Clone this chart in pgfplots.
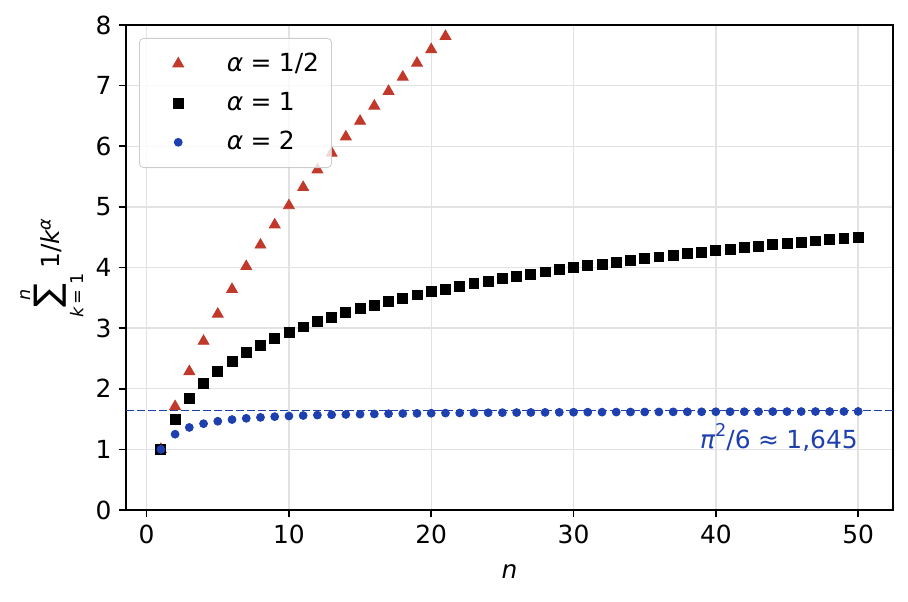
\documentclass[border=0pt]{standalone}
\usepackage{fontspec}
\setmainfont{DejaVu Sans}
\usepackage{pgfplots}
\pgfplotsset{compat=1.18}

\definecolor{cred}{RGB}{192,57,43}
\definecolor{cblue}{RGB}{30,64,175}
\definecolor{cgrid}{RGB}{226,226,226}

\newcommand{\sm}[1]{\hbox{\fontsize{8.5}{9}\selectfont #1}}
\newcommand{\eq}{\hspace{0.3em}=\hspace{0.3em}}

\begin{document}
\begin{tikzpicture}
\begin{axis}[
    scale only axis,
    width=368.16bp,
    height=232.8bp,
    xmin=-1.45, xmax=52.45,
    ymin=0, ymax=8,
    xtick={0,10,20,30,40,50},
    ytick={0,1,2,3,4,5,6,7,8},
    tick align=outside,
    tick pos=left,
    major tick length=3.5pt,
    tick style={black, line width=0.8pt},
    axis line style={line width=0.8pt},
    grid=major,
    grid style={cgrid, line width=0.7pt},
    clip marker paths=true,
    /pgf/number format/assume math mode=true,
    ticklabel style={font=\fontsize{12}{14}\selectfont},
    label style={font=\fontsize{12}{14}\selectfont},
    xlabel={\itshape n},
    xlabel style={yshift=-3.5bp},
    ylabel={$\displaystyle\mathop{\hbox{\fontsize{17}{18}\selectfont ∑}}\limits_{\sm{\itshape k\,\upshape = 1}}^{\sm{\itshape n}}$\,1/{\itshape k}$^{\sm{\itshape α}}$},
    ylabel style={yshift=-2pt},
    legend cell align=left,
    legend style={
        at={(0,1)}, anchor=north west,
        xshift=6.24bp, yshift=-6.24bp,
        draw={rgb,255:red,204;green,204;blue,204},
        rounded corners=2pt,
        fill=white, fill opacity=0.8, text opacity=1, draw opacity=1,
        font=\fontsize{12}{14}\selectfont,
        inner xsep=4pt, inner ysep=5pt,
        row sep=4.6pt,
    },
    legend image code/.code={
        \path (0cm,0cm);
        \draw[#1, fill opacity=1, draw opacity=1] plot coordinates {(0.51cm,0cm)};},
    every axis legend/.append style={nodes={right, inner xsep=2pt}},
]

\addplot[cblue, line width=0.6pt, dash pattern=on 3.7pt off 1.6pt, forget plot]
    coordinates {(-1.45,1.645)(52.45,1.645)};

\addplot[only marks, mark=triangle*, mark size=3pt, color=cred, draw=none, mark options={fill=cred, draw=none}]
coordinates {
(1,1)(2,1.70711)(3,2.28446)(4,2.78446)(5,3.23167)(6,3.63992)(7,4.01788)(8,4.37144)
(9,4.70477)(10,5.02099)(11,5.32250)(12,5.61118)(13,5.88853)(14,6.15579)(15,6.41399)
(16,6.66399)(17,6.90653)(18,7.14223)(19,7.37165)(20,7.59526)(21,7.81348)(22,8.02668)
};
\addlegendentry{\hspace{0.66cm}{\itshape α}\eq 1/2}

\addplot[only marks, mark=square*, mark size=2.4pt, color=black, mark options={fill=black, draw=none}]
coordinates {
(1,1)(2,1.5)(3,1.83333)(4,2.08333)(5,2.28333)(6,2.45)(7,2.59286)(8,2.71786)(9,2.82897)(10,2.92897)
(11,3.01988)(12,3.10321)(13,3.18013)(14,3.25156)(15,3.31823)(16,3.38073)(17,3.43955)(18,3.49511)(19,3.54774)(20,3.59774)
(21,3.64536)(22,3.69081)(23,3.73429)(24,3.77596)(25,3.81596)(26,3.85442)(27,3.89146)(28,3.92717)(29,3.96165)(30,3.99499)
(31,4.02725)(32,4.05850)(33,4.08880)(34,4.11821)(35,4.14678)(36,4.17456)(37,4.20159)(38,4.22790)(39,4.25354)(40,4.27854)
(41,4.30293)(42,4.32674)(43,4.35000)(44,4.37273)(45,4.39495)(46,4.41669)(47,4.43797)(48,4.45880)(49,4.47921)(50,4.49921)
};
\addlegendentry{\hspace{0.66cm}{\itshape α}\eq 1}

\addplot[only marks, mark=*, mark size=1.9pt, color=cblue, mark options={fill=cblue, draw=none}]
coordinates {
(1,1)(2,1.25)(3,1.36111)(4,1.42361)(5,1.46361)(6,1.49139)(7,1.51180)(8,1.52742)(9,1.53977)(10,1.54977)
(11,1.55803)(12,1.56498)(13,1.57089)(14,1.57600)(15,1.58044)(16,1.58435)(17,1.58781)(18,1.59089)(19,1.59366)(20,1.59616)
(21,1.59843)(22,1.60050)(23,1.60239)(24,1.60412)(25,1.60572)(26,1.60720)(27,1.60857)(28,1.60985)(29,1.61104)(30,1.61215)
(31,1.61319)(32,1.61417)(33,1.61509)(34,1.61595)(35,1.61677)(36,1.61754)(37,1.61827)(38,1.61896)(39,1.61962)(40,1.62024)
(41,1.62084)(42,1.62141)(43,1.62195)(44,1.62247)(45,1.62296)(46,1.62343)(47,1.62388)(48,1.62432)(49,1.62473)(50,1.62513)
};
\addlegendentry{\hspace{0.66cm}{\itshape α}\eq 2}

\node[anchor=east, text=cblue, font=\fontsize{12}{14}\selectfont, inner sep=0pt]
    at (axis cs:50,1.2) {{\itshape π}\raisebox{0.85ex}{\fontsize{8.5}{9}\selectfont 2}/6\hspace{0.3em}≈\hspace{0.3em}1,645};

\end{axis}
\pgfresetboundingbox
\path ([xshift=-60.48bp,yshift=-44.16bp]current axis.south west)
    rectangle ([xshift=7.2bp,yshift=12bp]current axis.north east);
\end{tikzpicture}
\end{document}
